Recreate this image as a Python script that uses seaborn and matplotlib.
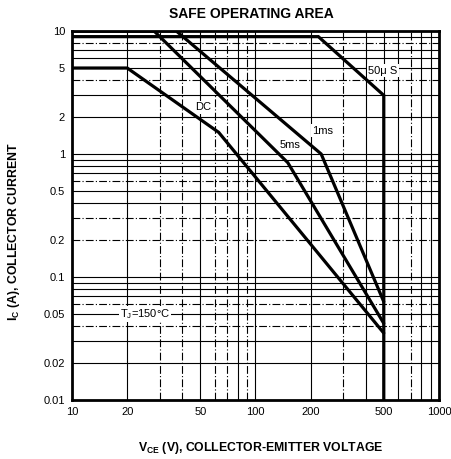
import numpy as np
import pandas as pd
import matplotlib
matplotlib.use("Agg")
import matplotlib.pyplot as plt
import seaborn as sns

# ---- data ----
dc_v = [10, 20, 63, 500]
dc_i = [5, 5, 1.5, 0.035]
ms5_v = [10, 28, 150, 500]
ms5_i = [10, 10, 0.85, 0.042]
ms1_v = [10, 37, 228, 500]
ms1_i = [10, 10, 1.0, 0.063]
us50_v = [10, 220, 500, 500]
us50_i = [9, 9, 3, 0.01]

x_ticks = [10, 20, 50, 100, 200, 500, 1000]
x_ticklabels = ["10", "20", "50", "100", "200", "500", "1000"]
y_ticks = [0.01, 0.02, 0.05, 0.1, 0.2, 0.5, 1, 2, 5, 10]
y_ticklabels = ["0.01", "0.02", "0.05", "0.1", "0.2", "0.5", "1", "2", "5", "10"]

h_solid = [9, 7, 6, 5, 3, 2, 1, 0.9, 0.8, 0.7, 0.5, 0.4, 0.1, 0.09, 0.08, 0.07, 0.05, 0.03, 0.02]
h_dash = [8, 4, 0.6, 0.3, 0.2, 0.06, 0.04]
v_solid = [20, 50, 80, 100, 200, 400, 500, 600, 800, 900]
v_dash = [30, 40, 60, 70, 90, 300, 700]

sns.set_style("white")
plt.rcParams['font.family'] = ['Liberation Sans', 'DejaVu Sans']
plt.rcParams['mathtext.fontset'] = 'custom'
plt.rcParams['mathtext.rm'] = 'Liberation Sans'
plt.rcParams['mathtext.bf'] = 'Liberation Sans:bold'
plt.rcParams['mathtext.it'] = 'Liberation Sans:italic'
plt.rcParams['text.color'] = 'black'
plt.rcParams['axes.labelcolor'] = 'black'
plt.rcParams['axes.titlecolor'] = 'black'

fig = plt.figure(figsize=(4.52, 4.59), dpi=100)
ax = fig.add_axes([72/452, 1-400/459, 367/452, 369/459])
ax.set_xscale('log')
ax.set_yscale('log')
ax.set_xlim(10, 1000)
ax.set_ylim(0.01, 10)

# grid
for v in h_solid:
    ax.axhline(v, color='black', lw=0.8, zorder=1)
for v in h_dash:
    ax.axhline(v, color='black', lw=0.8, dashes=(7, 2, 1, 2), zorder=1)
for v in v_solid:
    ax.axvline(v, color='black', lw=0.8, zorder=1)
for v in v_dash:
    ax.axvline(v, color='black', lw=0.8, dashes=(7, 2, 1, 2), zorder=1)

series = [("DC", dc_v, dc_i), ("5ms", ms5_v, ms5_i), ("1ms", ms1_v, ms1_i), ("50us", us50_v, us50_i)]
for name, xs, ys in series:
    df = pd.DataFrame({"V": xs, "I": ys})
    sns.lineplot(data=df, x="V", y="I", sort=False, estimator=None, color='black',
                 lw=2.3, ax=ax, zorder=5, solid_joinstyle='miter')

ax.set_xticks(x_ticks)
ax.set_xticklabels(x_ticklabels)
ax.set_yticks(y_ticks)
ax.set_yticklabels(y_ticklabels)
ax.minorticks_off()
ax.tick_params(axis='both', length=0, labelsize=8, colors='black', labelcolor='black')
ax.tick_params(axis='x', pad=5)
ax.tick_params(axis='y', pad=5)

for s in ax.spines.values():
    s.set_visible(True)
    s.set_color('black')
    s.set_linewidth(2.0)
    s.set_zorder(6)

bb = dict(facecolor='white', edgecolor='none', pad=1)
ax.text(52, 2.4, "DC", fontsize=8, ha='center', va='center', bbox=bb, zorder=4, color='black')
ax.text(154, 1.18, "5ms", fontsize=8, ha='center', va='center', bbox=bb, zorder=4, color='black')
ax.text(232, 1.55, "1ms", fontsize=8, ha='center', va='center', bbox=bb, zorder=4, color='black')
ax.text(495, 4.75, "50μ S", fontsize=8, ha='center', va='center', bbox=bb, zorder=4, color='black')
ax.text(25, 0.05, r"T$_\mathregular{J}$=150°C", fontsize=8, ha='center', va='center', bbox=bb,
        zorder=4, color='black')

ax.set_title("SAFE OPERATING AREA", fontsize=10, fontweight='bold', x=0.49, y=1.012, color='black')
ax.set_xlabel(r"$\mathbf{V_{CE}}$ (V), COLLECTOR-EMITTER VOLTAGE", fontsize=8.8, fontweight='bold', color='black')
ax.set_ylabel(r"$\mathbf{I_{C}}$ (A), COLLECTOR CURRENT", fontsize=8.8, fontweight='bold', color='black')
ax.xaxis.set_label_coords(0.515, -0.108)
ax.yaxis.set_label_coords(-0.135, 0.455)

fig.savefig("out.png", dpi=100)
